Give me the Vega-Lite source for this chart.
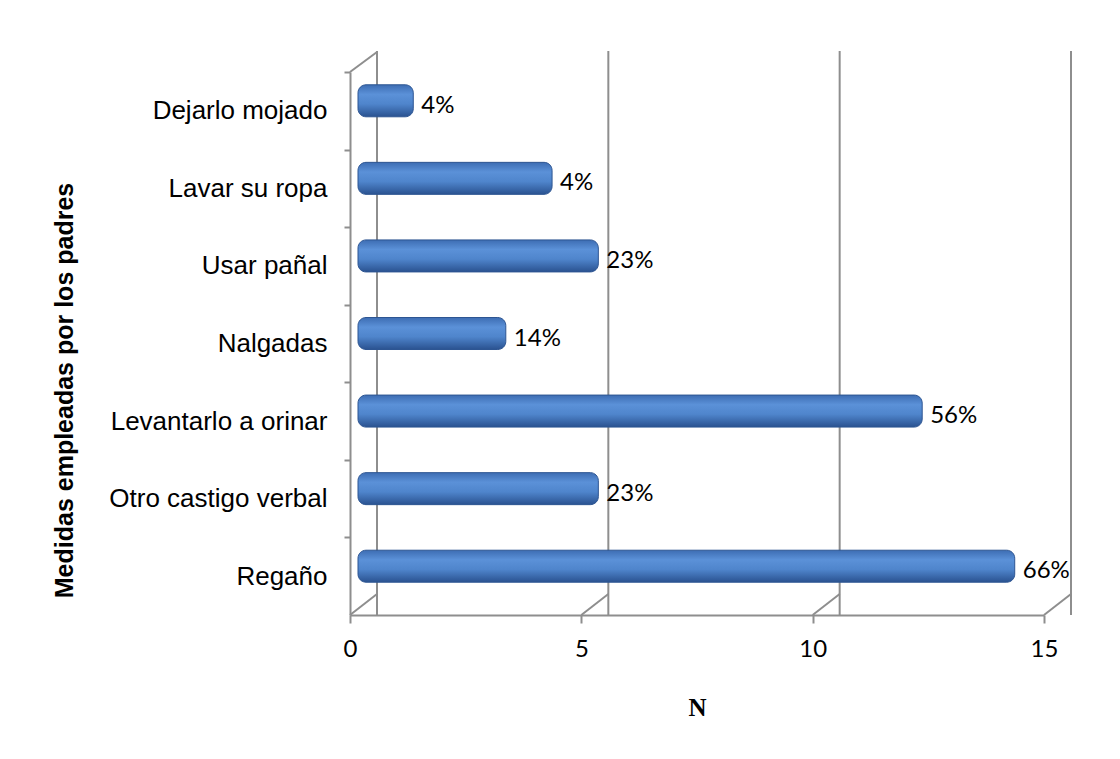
{
  "$schema": "https://vega.github.io/schema/vega-lite/v6.json",
  "width": 694,
  "height": 543,
  "autosize": "none",
  "padding": {"left": 350, "top": 72, "right": 76, "bottom": 144},
  "background": "white",
  "config": {
    "view": {"stroke": null},
    "axis": {"domainColor": "#8e8e8e", "tickColor": "#8e8e8e", "domainWidth": 2, "tickWidth": 2, "grid": false}
  },
  "datasets": {
    "bars": [
      {"medida": "Dejarlo mojado", "n": 1, "label": "4%"},
      {"medida": "Lavar su ropa", "n": 4, "label": "4%"},
      {"medida": "Usar pañal", "n": 5, "label": "23%"},
      {"medida": "Nalgadas", "n": 3, "label": "14%"},
      {"medida": "Levantarlo a orinar", "n": 12, "label": "56%"},
      {"medida": "Otro castigo verbal", "n": 5, "label": "23%"},
      {"medida": "Regaño", "n": 14, "label": "66%"}
    ],
    "grid": [{"n": 0}, {"n": 5}, {"n": 10}, {"n": 15}]
  },
  "layer": [
    {
      "data": {"name": "grid"},
      "mark": {"type": "rule", "color": "#8e8e8e", "strokeWidth": 2, "xOffset": 27, "yOffset": -21, "y2Offset": -21},
      "encoding": {
        "x": {"field": "n", "type": "quantitative", "scale": {"domain": [0, 15], "nice": false}}
      }
    },
    {
      "data": {"name": "grid"},
      "mark": {"type": "rule", "color": "#8e8e8e", "strokeWidth": 2, "x2Offset": 27, "y2Offset": -21},
      "encoding": {
        "x": {"field": "n", "type": "quantitative"},
        "x2": {"field": "n"},
        "y": {"datum": "Regaño", "bandPosition": 1, "type": "nominal"},
        "y2": {"datum": "Regaño", "bandPosition": 1}
      }
    },
    {
      "data": {"values": [{"n": 0}]},
      "mark": {"type": "rule", "color": "#8e8e8e", "strokeWidth": 2, "x2Offset": 27, "y2Offset": -20},
      "encoding": {
        "x": {"field": "n", "type": "quantitative"},
        "x2": {"field": "n"},
        "y": {"datum": "Dejarlo mojado", "bandPosition": 0, "type": "nominal"},
        "y2": {"datum": "Dejarlo mojado", "bandPosition": 0}
      }
    },
    {
      "data": {"name": "bars"},
      "mark": {
        "type": "bar",
        "height": 32,
        "yOffset": -10,
        "xOffset": 17,
        "x2Offset": 8,
        "cornerRadius": 8,
        "stroke": "#2d5592",
        "strokeWidth": 1,
        "fill": {
          "gradient": "linear", "x1": 0, "y1": 0, "x2": 0, "y2": 1,
          "stops": [
            {"offset": 0, "color": "#3d6db3"},
            {"offset": 0.3, "color": "#5b91d8"},
            {"offset": 0.6, "color": "#4f85cc"},
            {"offset": 1, "color": "#2a5290"}
          ]
        }
      },
      "encoding": {
        "x": {
          "field": "n", "type": "quantitative",
          "scale": {"domain": [0, 15], "nice": false},
          "axis": {
            "title": "N", "values": [0, 5, 10, 15], "tickSize": 8, "labelFlush": false,
            "labelFont": "Lato", "labelFontSize": 24, "labelColor": "black", "labelPadding": 14,
            "titleFont": "Liberation Serif", "titleFontSize": 25, "titleFontWeight": "bold", "titleColor": "black", "titlePadding": 34
          }
        },
        "x2": {"datum": 0},
        "y": {
          "field": "medida", "type": "nominal", "sort": null,
          "scale": {"domain": ["Dejarlo mojado", "Lavar su ropa", "Usar pañal", "Nalgadas", "Levantarlo a orinar", "Otro castigo verbal", "Regaño"], "paddingInner": 0, "paddingOuter": 0},
          "axis": {
            "title": "Medidas empleadas por los padres",
            "tickSize": 6, "tickOffset": -38.8, "labelOffset": 38.8, "labelLimit": 400,
            "labelFont": "Liberation Sans", "labelFontSize": 26, "labelColor": "black", "labelPadding": 17,
            "titleFont": "Liberation Sans", "titleFontSize": 25, "titleFontWeight": "bold", "titleColor": "black",
            "titleX": -286, "titleY": 318, "titleAngle": -90, "titleAlign": "center", "titleBaseline": "middle"
          }
        }
      }
    },
    {
      "data": {"name": "bars"},
      "mark": {"type": "text", "align": "left", "baseline": "middle", "dx": 25, "dy": -5, "font": "Lato", "fontSize": 24, "color": "black"},
      "encoding": {
        "x": {"field": "n", "type": "quantitative"},
        "y": {"field": "medida", "type": "nominal", "sort": null},
        "text": {"field": "label"}
      }
    }
  ]
}
